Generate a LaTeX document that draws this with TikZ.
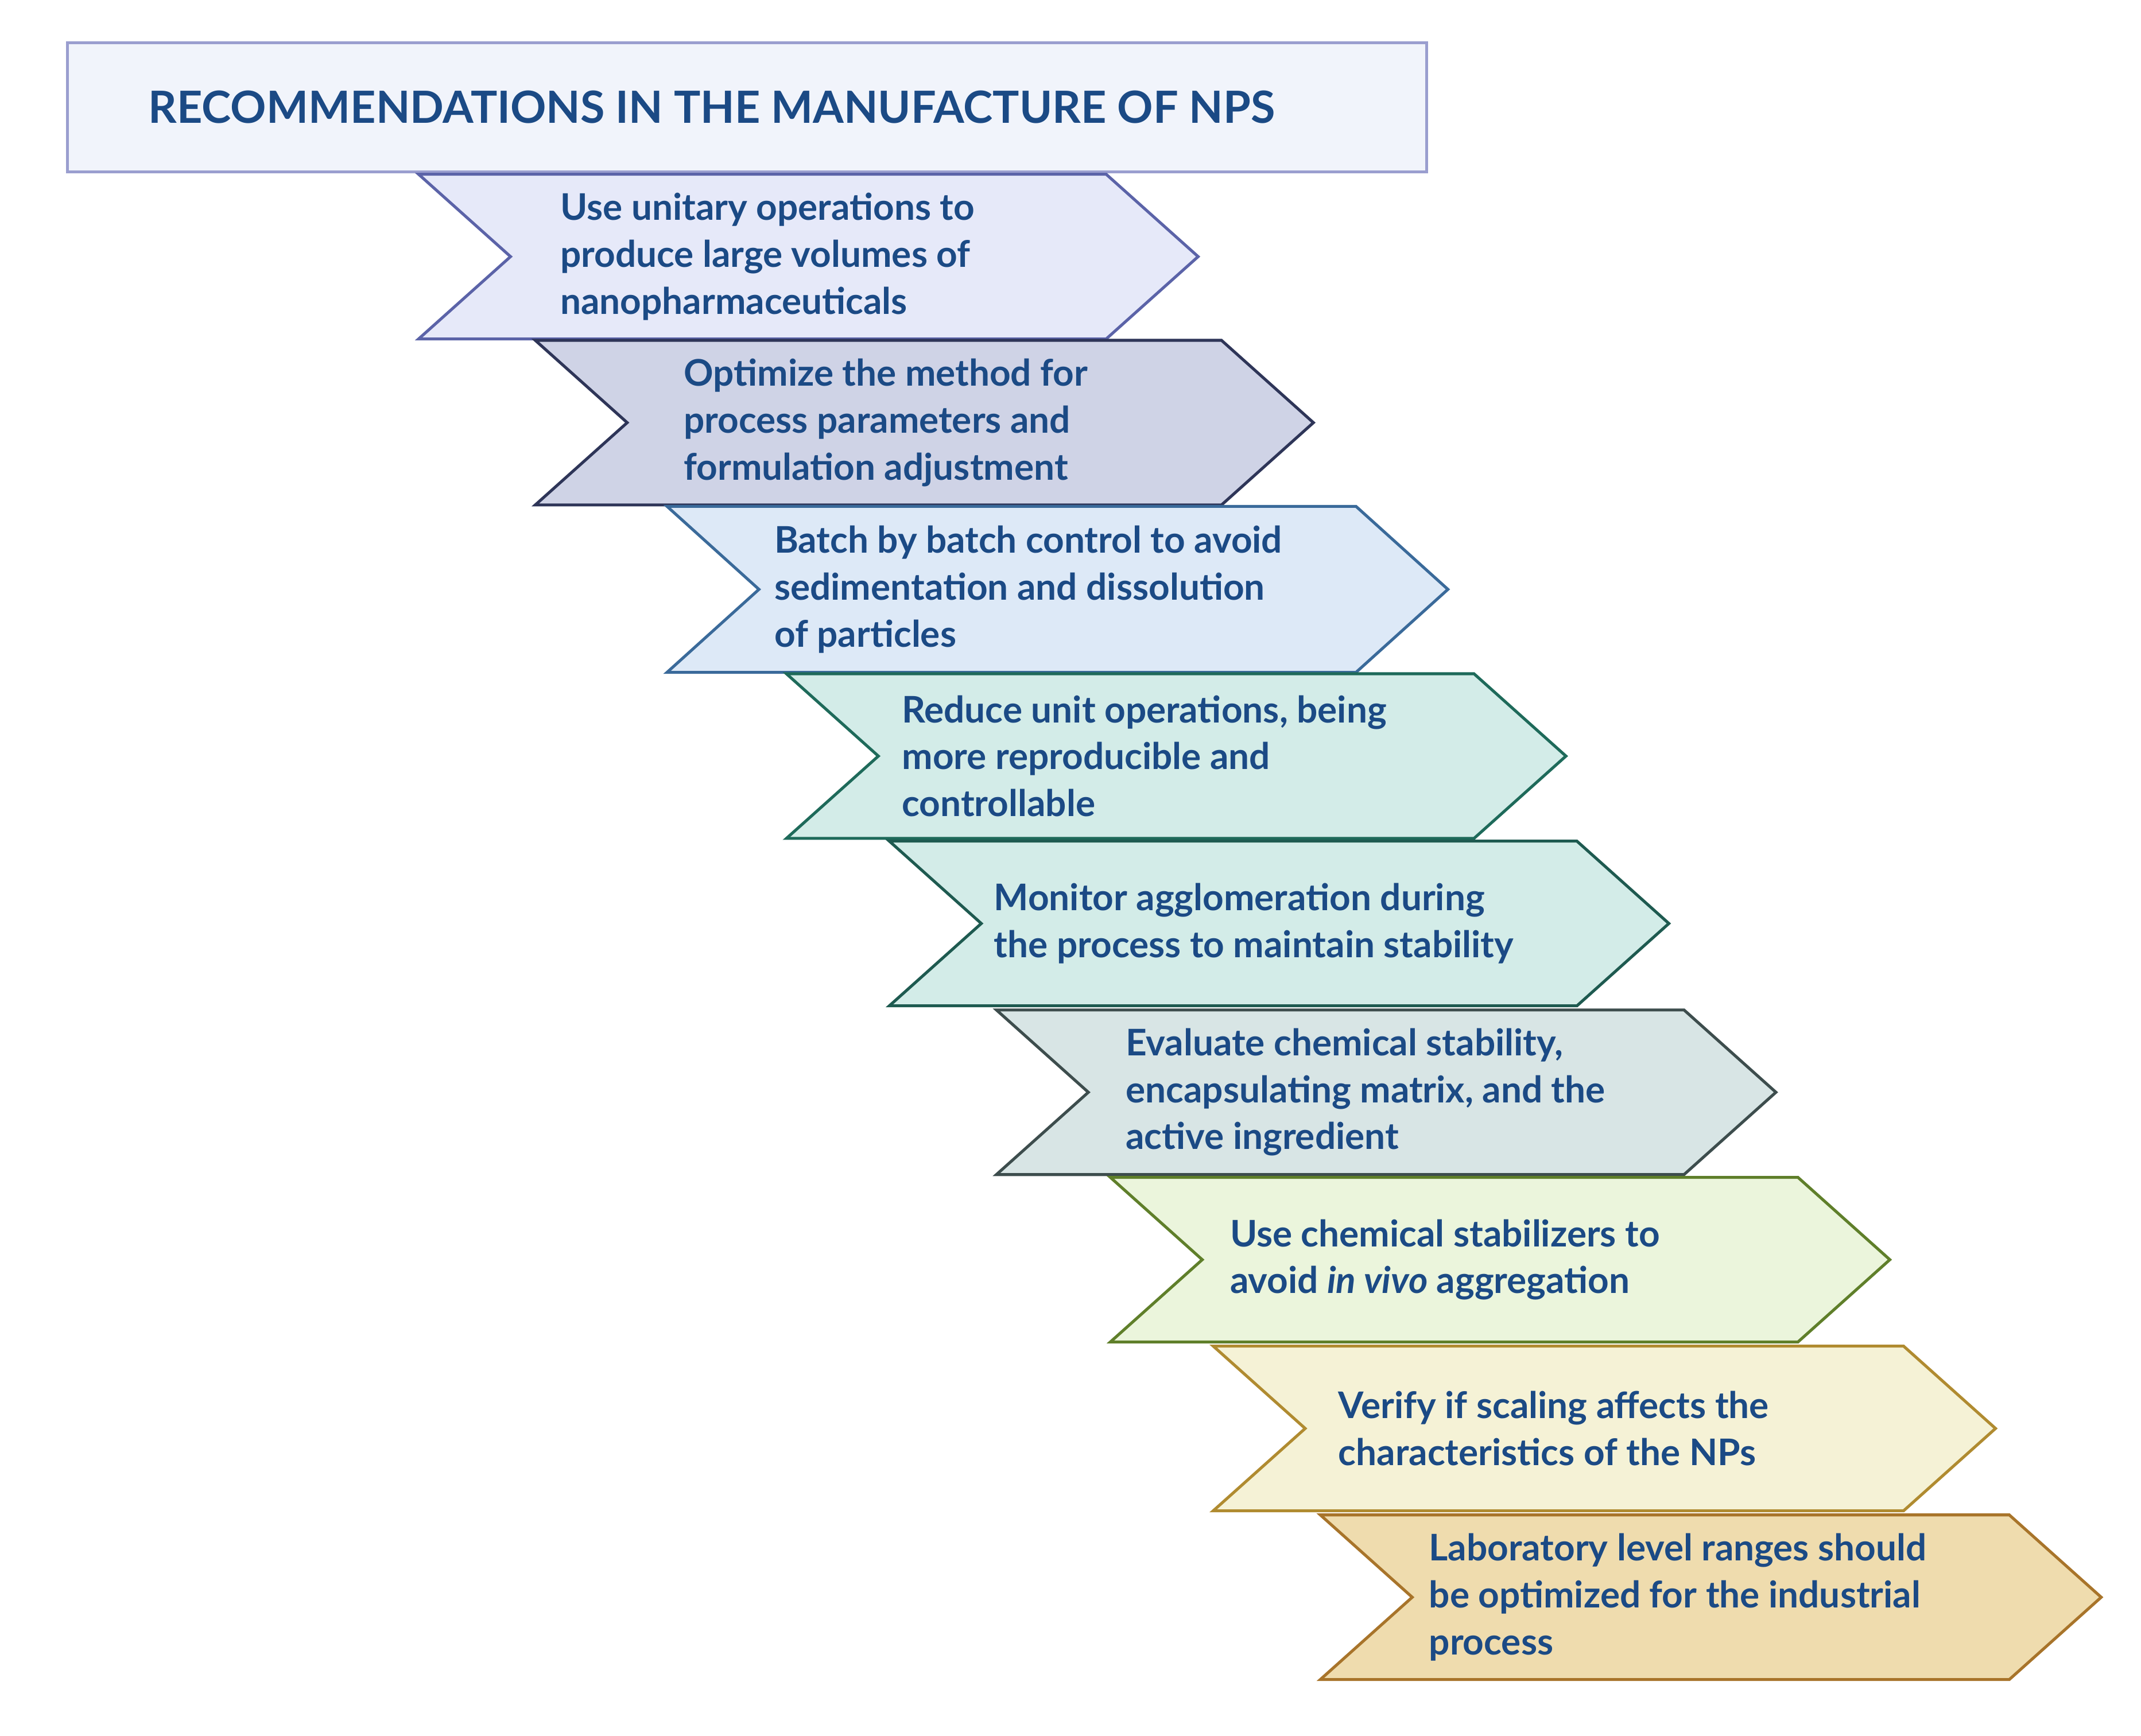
\documentclass[tikz,border=0pt]{standalone}
\usepackage{fontspec}
\setmainfont{Lato}
\definecolor{tx}{HTML}{1B4A85}
\definecolor{tf}{HTML}{F1F4FB}
\definecolor{td}{HTML}{9A9ECF}
\begin{document}
\begin{tikzpicture}[x=0.025cm,y=-0.025cm,
  lbl/.style={anchor=west,align=left,text=tx,font=\bfseries\fontsize{19}{24.3}\selectfont,inner sep=0pt}]
\useasboundingbox (0,0) rectangle (1560,1265);
\node[draw=td,fill=tf,line width=1.5pt,minimum width=24.75cm,minimum height=2.35cm,anchor=north west] (tbox) at (48,30) {};
\node[anchor=west,text=tx,font=\bfseries\fontsize{23}{28}\selectfont,inner sep=0pt] (title) at (108,78) {RECOMMENDATIONS IN THE MANUFACTURE OF NPS};
\newcommand{\chev}[9]{%
 \definecolor{f#1}{HTML}{#6}\definecolor{d#1}{HTML}{#7}%
 \draw[fill=f#1,draw=d#1,line width=1.5pt,line join=miter] (#2,#4) -- (#3,#4) -- (#3+67,#4/2+#5/2) -- (#3,#5) -- (#2,#5) -- (#2+67,#4/2+#5/2) -- cycle;
 \node[lbl] (t#1) at (#8,#4/2+#5/2) {#9};}
\chev{a}{305}{806}{127}{247}{E6E9F9}{5B63A8}{408}{Use unitary operations to\\produce large volumes of\\nanopharmaceuticals}
\chev{b}{390}{890}{248}{368}{CFD3E6}{2E3558}{498}{Optimize the method for\\process parameters and\\formulation adjustment}
\chev{c}{486}{988}{369}{490}{DDE9F7}{3A6A9A}{564}{Batch by batch control to avoid\\sedimentation and dissolution\\of particles}
\chev{d}{573}{1074}{491}{611}{D3ECE8}{1E6A5A}{657}{Reduce unit operations, being\\more reproducible and\\controllable}
\chev{e}{648}{1149}{613}{733}{D3ECE8}{1E5A50}{724}{Monitor agglomeration during\\the process to maintain stability}
\chev{f}{726}{1227}{736}{856}{D8E5E5}{3D4D4D}{820}{Evaluate chemical stability,\\encapsulating matrix, and the\\active ingredient}
\chev{g}{809}{1310}{858}{978}{EBF5DC}{5F7F2A}{896}{Use chemical stabilizers to\\avoid \textit{in vivo} aggregation}
\chev{h}{884}{1387}{981}{1101}{F5F2D6}{B08B30}{975}{Verify if scaling affects the\\characteristics of the NPs}
\chev{i}{962}{1464}{1104}{1224}{EFDCAE}{A8742A}{1041}{Laboratory level ranges should\\be optimized for the industrial\\process}
\end{tikzpicture}
\end{document}
